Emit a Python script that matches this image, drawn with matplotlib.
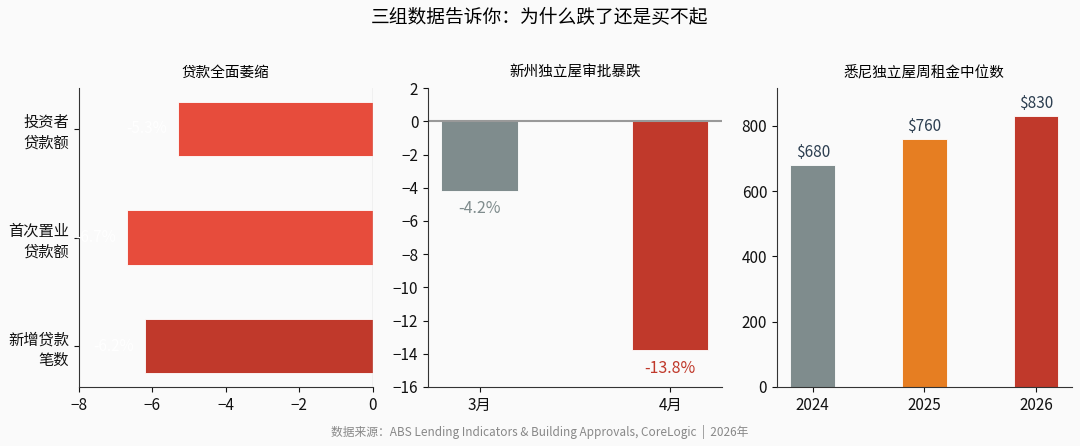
import matplotlib
matplotlib.use("Agg")
import matplotlib.pyplot as plt

plt.rcParams['font.family'] = ['Noto Sans CJK SC', 'DejaVu Sans']
plt.rcParams['axes.unicode_minus'] = True

# 贷款数据
loan_labels = ["投资者\n贷款额", "首次置业\n贷款额", "新增贷款\n笔数"]
loan_values = [-5.3, -6.7, -6.2]
loan_colors = ["#e74c3c", "#e74c3c", "#c0392b"]

# 审批数据
approval_labels = ["3月", "4月"]
approval_values = [-4.2, -13.8]
approval_colors = ["#7f8c8d", "#c0392b"]

# 租金数据
rent_years = ["2024", "2025", "2026"]
rent_values = [680, 760, 830]
rent_colors = ["#7f8c8d", "#e67e22", "#c0392b"]

BG = "#fafafa"
fig = plt.figure(figsize=(10.8, 4.46), dpi=100, facecolor=BG)

ax1 = fig.add_axes([0.0731, 0.1323, 0.272, 0.670])
ax2 = fig.add_axes([0.3963, 0.1323, 0.272, 0.670])
ax3 = fig.add_axes([0.7194, 0.1323, 0.273, 0.670])

for ax in (ax1, ax2, ax3):
    ax.set_facecolor(BG)
    ax.spines["top"].set_visible(False)
    ax.spines["right"].set_visible(False)
    for s in ("left", "bottom"):
        ax.spines[s].set_color("#333333")
    ax.tick_params(labelsize=11, colors="#111111")

# 左图
ypos = range(len(loan_labels))
ax1.barh(ypos, loan_values, height=0.5, color=loan_colors, edgecolor="white", linewidth=0.6)
ax1.set_yticks(list(ypos))
ax1.set_yticklabels(loan_labels, fontsize=11, linespacing=1.3)
ax1.invert_yaxis()
ax1.set_xlim(-8, 0)
ax1.set_xticks([-8, -6, -4, -2, 0])
ax1.axvline(0, color="#cccccc", lw=1, zorder=3)
for y, v in zip(ypos, loan_values):
    ax1.text(v - 0.3, y, f"{v}%", color="white", ha="right", va="center", fontsize=11)
ax1.set_title("贷款全面萎缩", fontsize=10.5, pad=8, fontweight="medium")

# 中图
xpos = range(len(approval_labels))
ax2.bar(xpos, approval_values, width=0.4, color=approval_colors, edgecolor="white", linewidth=0.6)
ax2.axhline(0, color="#999999", lw=1.5)
ax2.set_ylim(-16, 2)
ax2.set_yticks(range(-16, 3, 2))
ax2.set_xticks(list(xpos))
ax2.set_xticklabels(approval_labels)
for x, v, c in zip(xpos, approval_values, approval_colors):
    ax2.text(x, v - 0.55, f"{v}%", color=c, ha="center", va="top", fontsize=11.5)
ax2.set_title("新州独立屋审批暴跌", fontsize=10.5, pad=8, fontweight="medium")

# 右图
xpos3 = range(len(rent_years))
ax3.bar(xpos3, rent_values, width=0.4, color=rent_colors, edgecolor="white", linewidth=0.6)
ax3.set_ylim(0, 915)
ax3.set_yticks([0, 200, 400, 600, 800])
ax3.set_xticks(list(xpos3))
ax3.set_xticklabels(rent_years)
for x, v in zip(xpos3, rent_values):
    ax3.text(x, v + 12, f"${v}", color="#2c3e50", ha="center", va="bottom", fontsize=11)
ax3.set_title("悉尼独立屋周租金中位数", fontsize=10.5, pad=8, fontweight="medium")

fig.suptitle("三组数据告诉你：为什么跌了还是买不起", fontsize=13.5, y=0.985, fontweight="medium")
fig.text(0.5, 0.032, "数据来源：ABS Lending Indicators & Building Approvals, CoreLogic  |  2026年",
         ha="center", va="center", fontsize=8.5, color="#888888")

fig.savefig("out.png", dpi=100, facecolor=BG)
